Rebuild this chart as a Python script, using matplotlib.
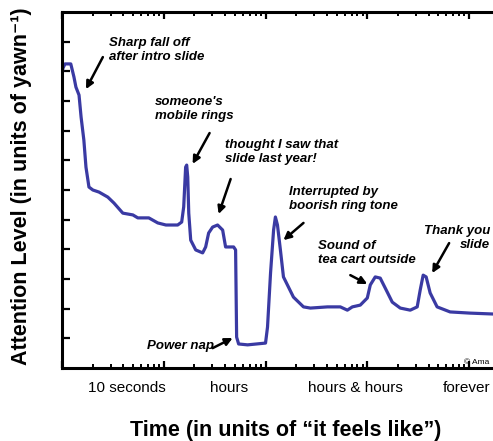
import matplotlib
matplotlib.use('Agg')
import matplotlib.pyplot as plt
from matplotlib.ticker import LogLocator, NullFormatter

plt.rcParams['font.family'] = ['Liberation Sans', 'DejaVu Sans']

# Attention curve (time in "feels like" units, log scale)
time_felt = [1.0, 1.02, 1.07, 1.22, 1.31, 1.37, 1.47, 1.54, 1.64, 1.72, 1.84, 2.01,
             2.31, 2.82, 3.24, 3.96, 4.97, 5.56, 7.13, 8.73, 10.5, 13.7, 15.0, 15.7,
             16.4, 16.8, 17.2, 17.6, 18.4, 20.6, 24.1, 25.8, 27.6, 30.2, 33.8, 37.9,
             40.5, 48.6, 50.8, 52.0, 54.4, 66.6, 100, 104.6, 112, 120, 125, 131, 140,
             150, 188, 236, 276, 406, 543, 637, 713, 853, 1000, 1070, 1197, 1340, 1570,
             1759, 2108, 2642, 3093, 3311, 3540, 3787, 4146, 4853, 6512, 10233, 17188]
attention = [9.87, 10.1, 10.25, 10.25, 9.81, 9.47, 9.2, 8.46, 7.68, 6.77, 6.10, 6.0,
             5.93, 5.76, 5.56, 5.22, 5.16, 5.06, 5.06, 4.89, 4.82, 4.82, 4.92, 5.43,
             6.77, 6.84, 6.44, 5.22, 4.31, 3.98, 3.88, 4.08, 4.55, 4.75, 4.82, 4.65,
             4.08, 4.08, 3.98, 1.04, 0.81, 0.78, 0.84, 1.38, 3.20, 4.65, 5.09, 4.82,
             3.98, 3.07, 2.39, 2.06, 2.02, 2.06, 2.06, 1.95, 2.06, 2.12, 2.36, 2.80,
             3.07, 3.03, 2.56, 2.22, 2.02, 1.95, 2.06, 2.63, 3.13, 3.07, 2.53, 2.06,
             1.89, 1.85, 1.82]

time_labels = ['10 seconds', 'hours', 'hours & hours', 'forever']
time_label_pos = [4.34, 43.4, 763, 9550]

notes = ['Sharp fall off\nafter intro slide', "someone's\nmobile rings",
         'thought I saw that\nslide last year!', 'Interrupted by\nboorish ring tone',
         'Sound of\ntea cart outside', 'Thank you\nslide', 'Power nap']

fig = plt.figure(figsize=(4.93, 4.41), dpi=100)
ax = fig.add_axes([62 / 493, 1 - 368 / 441, 1 - 62 / 493, 356 / 441])

ax.plot(time_felt, attention, color='#3a3aa3', lw=2.3, solid_joinstyle='round',
        solid_capstyle='round')

ax.set_xscale('log')
ax.set_xlim(1, 17188)
ax.set_ylim(0, 12)

# axis frame + inward ticks
for side in ['left', 'top', 'bottom']:
    ax.spines[side].set_linewidth(2.2)
ax.spines['right'].set_visible(False)
ax.xaxis.set_major_locator(LogLocator(base=10, numticks=10))
ax.xaxis.set_minor_locator(LogLocator(base=10, subs=range(2, 10), numticks=20))
ax.xaxis.set_major_formatter(NullFormatter())
ax.xaxis.set_minor_formatter(NullFormatter())
ax.set_yticks(range(1, 12))
ax.set_yticklabels([])
ax.tick_params(axis='x', which='major', direction='in', top=True, bottom=True,
               length=5, width=1.6)
ax.tick_params(axis='x', which='minor', direction='in', top=True, bottom=True,
               length=3, width=1.4)
ax.tick_params(axis='y', which='major', direction='in', length=6, width=1.6)

for lab, xp in zip(time_labels, time_label_pos):
    ax.text(xp, -0.056, lab, transform=ax.get_xaxis_transform(), ha='center',
            va='center', fontsize=11)

ax.set_xlabel('Time (in units of \u201cit feels like\u201d)', fontsize=15.5,
              fontweight='bold')
ax.set_ylabel('Attention Level (in units of yawn\u207b\u00b9)', fontsize=15.5,
              fontweight='bold')
ax.yaxis.set_label_coords(-0.07, 0.511)
ax.xaxis.set_label_coords(0.52, -0.145)

# annotations: text position, arrow tail, arrow tip (data coords)
note_kw = dict(fontsize=9.5, fontweight='bold', fontstyle='italic')
arrow = dict(arrowstyle='-|>', color='black', lw=1.8, mutation_scale=11,
             shrinkA=0, shrinkB=0)

ax.text(2.89, 11.16, notes[0], ha='left', va='top', linespacing=1.25, **note_kw)
ax.annotate('', xy=(1.72, 9.40), xytext=(2.52, 10.48), arrowprops=arrow)

ax.text(8.16, 9.17, notes[1], ha='left', va='top', linespacing=1.25, **note_kw)
ax.annotate('', xy=(19.2, 6.88), xytext=(28.2, 7.92), arrowprops=arrow)

ax.text(39.6, 7.72, notes[2], ha='left', va='top', linespacing=1.25, **note_kw)
ax.annotate('', xy=(34.6, 5.19), xytext=(45.4, 6.37), arrowprops=arrow)

ax.text(172, 6.13, notes[3], ha='left', va='top', linespacing=1.25, **note_kw)
ax.annotate('', xy=(150, 4.31), xytext=(236, 4.89), arrowprops=arrow)

ax.text(331, 4.31, notes[4], ha='left', va='top', linespacing=1.25, **note_kw)
ax.annotate('', xy=(1000, 2.83), xytext=(681, 3.13), arrowprops=arrow)

ax.text(16070, 4.82, notes[5], ha='right', va='top', linespacing=1.25, **note_kw)
ax.annotate('', xy=(4340, 3.20), xytext=(6370, 4.21), arrowprops=arrow)

ax.text(6.81, 0.74, notes[6], ha='left', va='center', **note_kw)
ax.annotate('', xy=(47.5, 1.01), xytext=(30.2, 0.67), arrowprops=arrow)

fig.text(464 / 493, 1 - 362 / 441, '\u00a9 Ama', fontsize=6, ha='left', va='center')

fig.savefig('out.png', dpi=100)
